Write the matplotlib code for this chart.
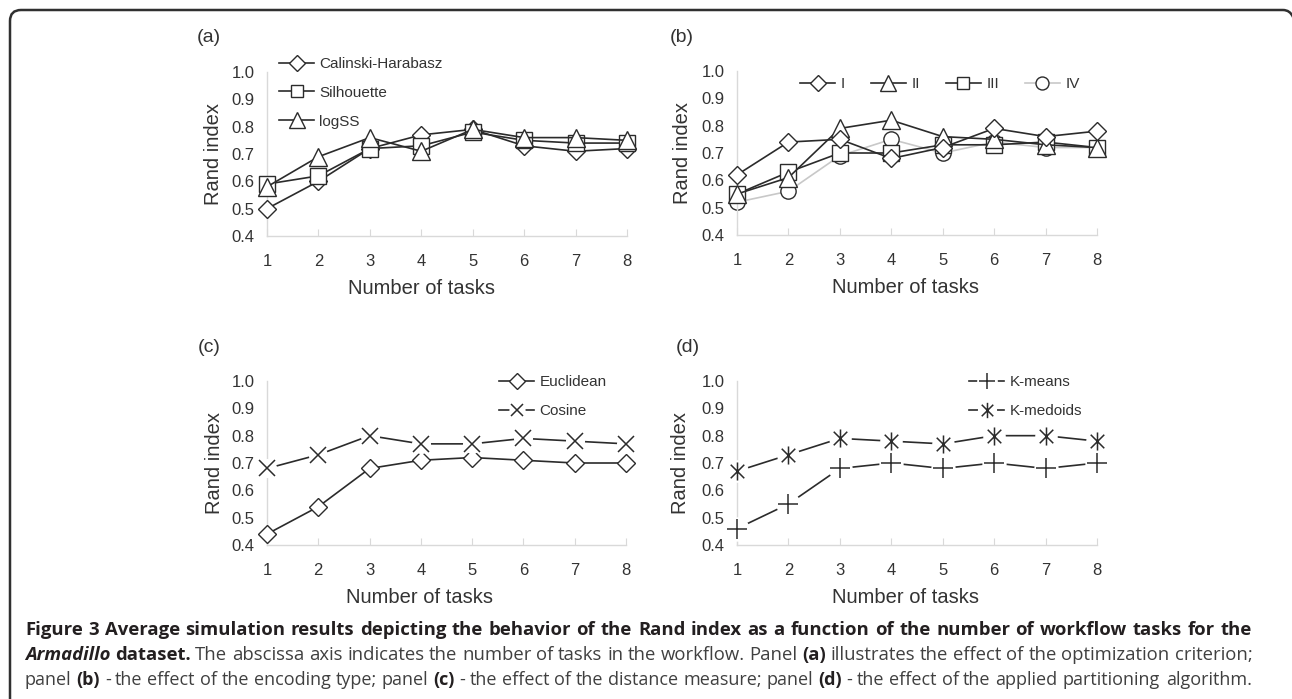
import matplotlib
matplotlib.use("Agg")
import matplotlib.pyplot as plt
from matplotlib.path import Path
from matplotlib.patches import PathPatch
from matplotlib.legend_handler import HandlerTuple

W, H = 1292, 699
tasks = [1, 2, 3, 4, 5, 6, 7, 8]
yticks = [0.4, 0.5, 0.6, 0.7, 0.8, 0.9, 1.0]

# Panel (a): optimization criterion
calinski = [0.50, 0.60, 0.72, 0.77, 0.79, 0.73, 0.71, 0.72]
silhouette = [0.59, 0.62, 0.72, 0.73, 0.78, 0.75, 0.74, 0.74]
logss = [0.58, 0.69, 0.76, 0.71, 0.79, 0.76, 0.76, 0.75]

# Panel (b): encoding type
enc_I = [0.62, 0.74, 0.75, 0.68, 0.72, 0.79, 0.76, 0.78]
enc_II = [0.55, 0.61, 0.79, 0.82, 0.76, 0.75, 0.73, 0.72]
enc_III = [0.55, 0.63, 0.70, 0.70, 0.73, 0.73, 0.74, 0.72]
enc_IV = [0.52, 0.56, 0.69, 0.75, 0.70, 0.74, 0.72, 0.72]

# Panel (c): distance measure
euclidean = [0.44, 0.54, 0.68, 0.71, 0.72, 0.71, 0.70, 0.70]
cosine = [0.68, 0.73, 0.80, 0.77, 0.77, 0.79, 0.78, 0.77]

# Panel (d): partitioning algorithm
kmeans = [0.46, 0.55, 0.68, 0.70, 0.68, 0.70, 0.68, 0.70]
kmedoids = [0.67, 0.73, 0.79, 0.78, 0.77, 0.80, 0.80, 0.78]

plt.rcParams['font.family'] = ['Liberation Sans', 'DejaVu Sans']
DARK = '#2b2b2b'
TXT = '#333333'
AXC = '#d9d9d9'

fig = plt.figure(figsize=(W / 100, H / 100), dpi=100)

def px_axes(l, t, r, b):
    return fig.add_axes([l / W, 1 - b / H, (r - l) / W, (b - t) / H])

def style_axes(ax, xl_x, yl_x, xl_y):
    ax.set_xlim(1, 8)
    ax.set_ylim(0.4, 1.0)
    ax.set_xticks(tasks)
    ax.set_yticks(yticks)
    ax.set_yticklabels([f"{v:.1f}" for v in yticks])
    for s in ['top', 'right']:
        ax.spines[s].set_visible(False)
    for s in ['left', 'bottom']:
        ax.spines[s].set_color(AXC)
        ax.spines[s].set_linewidth(1.0)
    ax.tick_params(axis='x', direction='in', length=5, color=AXC, pad=13,
                   labelsize=12, labelcolor=TXT)
    ax.tick_params(axis='y', length=0, pad=9, labelsize=12, labelcolor=TXT)
    ax.set_xlabel('Number of tasks', fontsize=14.5, color=TXT)
    ax.set_ylabel('Rand index', fontsize=14.5, color=TXT)
    ax.xaxis.set_label_coords(xl_x, xl_y)
    ax.yaxis.set_label_coords(yl_x, 0.5)
    ax.set_facecolor('none')

def series(ax, y, marker, ms, color=DARK, lc=DARK, label=None, z=3):
    ln, = ax.plot(tasks, y, color=lc, lw=1.2, marker=marker, ms=ms,
                  mfc='white', mec=color, mew=1.0, clip_on=False,
                  zorder=z, label=label)
    return ln

LEG = dict(bbox_transform=fig.transFigure, frameon=False, fontsize=11,
           handlelength=2.3, handletextpad=0.35, borderpad=0,
           borderaxespad=0, labelcolor=TXT, markerscale=0.85, loc='upper left')

# ---- (a)
axa = px_axes(267, 72, 627, 236)
style_axes(axa, (422 - 267) / 360, (223 - 267) / 360, -(279 - 236) / 164)
series(axa, calinski, 'D', 9, label='Calinski-Harabasz')
series(axa, silhouette, 's', 11, label='Silhouette')
series(axa, logss, '^', 13, label='logSS')
axa.legend(bbox_to_anchor=(279 / W, 1 - 57 / H), labelspacing=0.97, **LEG)

# ---- (b)
axb = px_axes(737, 71, 1097, 235)
style_axes(axb, (905 - 737) / 360, (692 - 737) / 360, -(278 - 235) / 164)
series(axb, enc_IV, 'o', 11, lc='#c8c8c8', label='IV', z=2)
series(axb, enc_III, 's', 11, label='III', z=3)
series(axb, enc_II, '^', 13, label='II', z=4)
series(axb, enc_I, 'D', 9, label='I', z=5)
h, l = axb.get_legend_handles_labels()
order = [3, 2, 1, 0]
axb.legend([h[i] for i in order], [l[i] for i in order], ncol=4,
           bbox_to_anchor=(800 / W, 1 - 77 / H), columnspacing=1.7, **LEG)

# ---- (c)
def gap_series(ax, y, marker, ms):
    l1, = ax.plot(tasks, y, color=DARK, lw=1.2, clip_on=False, zorder=2)
    l2, = ax.plot(tasks, y, ls='none', marker='o', ms=ms * 1.25, mfc='white',
                  mec='white', mew=0, clip_on=False, zorder=3)
    l3, = ax.plot(tasks, y, ls='none', marker=marker, ms=ms, mec=DARK,
                  mfc='none', mew=1.1, clip_on=False, zorder=4)
    return (l1, l2, l3)

axc = px_axes(267, 381, 626, 545)
style_axes(axc, (420 - 267) / 359, (224 - 267) / 359, -(588 - 545) / 164)
he = series(axc, euclidean, 'D', 9)
hc = gap_series(axc, cosine, 'x', 11)
axc.legend([he, hc], ['Euclidean', 'Cosine'],
           handler_map={tuple: HandlerTuple(ndivide=1, pad=0)},
           bbox_to_anchor=(499 / W, 1 - 375 / H), labelspacing=1.0, **LEG)

# ---- (d)
ast_verts = [(0, -1), (0, 1),
             (-0.75, -0.75), (0.75, 0.75),
             (-0.75, 0.75), (0.75, -0.75)]
ast_codes = [Path.MOVETO, Path.LINETO] * 3
asterisk = Path(ast_verts, ast_codes)

axd = px_axes(737, 381, 1097, 545)
style_axes(axd, (905 - 737) / 360, (690 - 737) / 360, -(588 - 545) / 164)
hk = gap_series(axd, kmeans, '+', 14)
hm = gap_series(axd, kmedoids, asterisk, 13)
axd.legend([hk, hm], ['K-means', 'K-medoids'],
           handler_map={tuple: HandlerTuple(ndivide=1, pad=0)},
           bbox_to_anchor=(969 / W, 1 - 375 / H), labelspacing=1.0, **LEG)

# panel letters
for lab, x, y in [('(a)', 197, 38), ('(b)', 670, 38), ('(c)', 198, 347), ('(d)', 676, 347)]:
    fig.text(x / W, 1 - y / H, lab, fontsize=14, color=TXT, ha='left', va='center')

# ---- border (rounded top corners, open right/bottom)
r = 11
verts = [(10, H + 2), (10, 10 + r), (10, 10), (10 + r, 10), (1283, 10),
         (1290, 10), (1293, 17)]
codes = [Path.MOVETO, Path.LINETO, Path.CURVE3, Path.CURVE3, Path.LINETO,
         Path.CURVE3, Path.CURVE3]
bpath = Path([(x / W, 1 - y / H) for x, y in verts], codes)
fig.patches.append(PathPatch(bpath, transform=fig.transFigure, fill=False,
                             edgecolor='#303030', lw=1.8, clip_on=False))

# ---- caption (justified)
CAP_B = '#231f20'
CAP_R = '#404040'
cap_lines = [
    [("Figure 3 Average simulation results depicting the behavior of the Rand index as a function of the number of workflow tasks for the", 'bold', 'normal', CAP_B)],
    [("Armadillo", 'bold', 'italic', CAP_B), ("dataset.", 'bold', 'normal', CAP_B),
     ("The abscissa axis indicates the number of tasks in the workflow. Panel", 'normal', 'normal', CAP_R),
     ("(a)", 'bold', 'normal', CAP_B),
     ("illustrates the effect of the optimization criterion;", 'normal', 'normal', CAP_R)],
    [("panel", 'normal', 'normal', CAP_R), ("(b)", 'bold', 'normal', CAP_B),
     ("- the effect of the encoding type; panel", 'normal', 'normal', CAP_R),
     ("(c)", 'bold', 'normal', CAP_B),
     ("- the effect of the distance measure; panel", 'normal', 'normal', CAP_R),
     ("(d)", 'bold', 'normal', CAP_B),
     ("- the effect of the applied partitioning algorithm.", 'normal', 'normal', CAP_R)],
]
cap_y = [630, 655, 680]
CAP_X0, CAP_W = 25, 1227
CAPF = 'Open Sans'
renderer = fig.canvas.get_renderer()

def text_w(s, size, weight, style):
    t = fig.text(0, 0, s, fontsize=size, fontweight=weight, fontstyle=style, family=CAPF)
    w = t.get_window_extent(renderer=renderer).width
    t.remove()
    return w

def words_of(pieces):
    out = []
    for s, wgt, sty, col in pieces:
        for wd in s.split(' '):
            if wd:
                out.append((wd, wgt, sty, col))
    return out

base = 10.0
sp_base = text_w('a a', base, 'normal', 'normal') - text_w('aa', base, 'normal', 'normal')
measured = []
scales = []
for pieces in cap_lines:
    wds = words_of(pieces)
    ws = [text_w(w, base, g, s) for w, g, s, c in wds]
    measured.append((wds, ws))
    scales.append(CAP_W / (sum(ws) + sp_base * (len(ws) - 1)))
target = sorted(scales)[len(scales) // 2]

for (wds, ws), y, s_i in zip(measured, cap_y, scales):
    sc = min(s_i, target)
    ws = [w * sc for w in ws]
    gap = (CAP_W - sum(ws)) / (len(ws) - 1)
    x = CAP_X0
    for (wd, g, s, c), w in zip(wds, ws):
        fig.text(x / W, 1 - y / H, wd, fontsize=base * sc, fontweight=g,
                 fontstyle=s, color=c, family=CAPF, ha='left', va='center')
        x += w + gap

fig.savefig('out.png', dpi=100)
